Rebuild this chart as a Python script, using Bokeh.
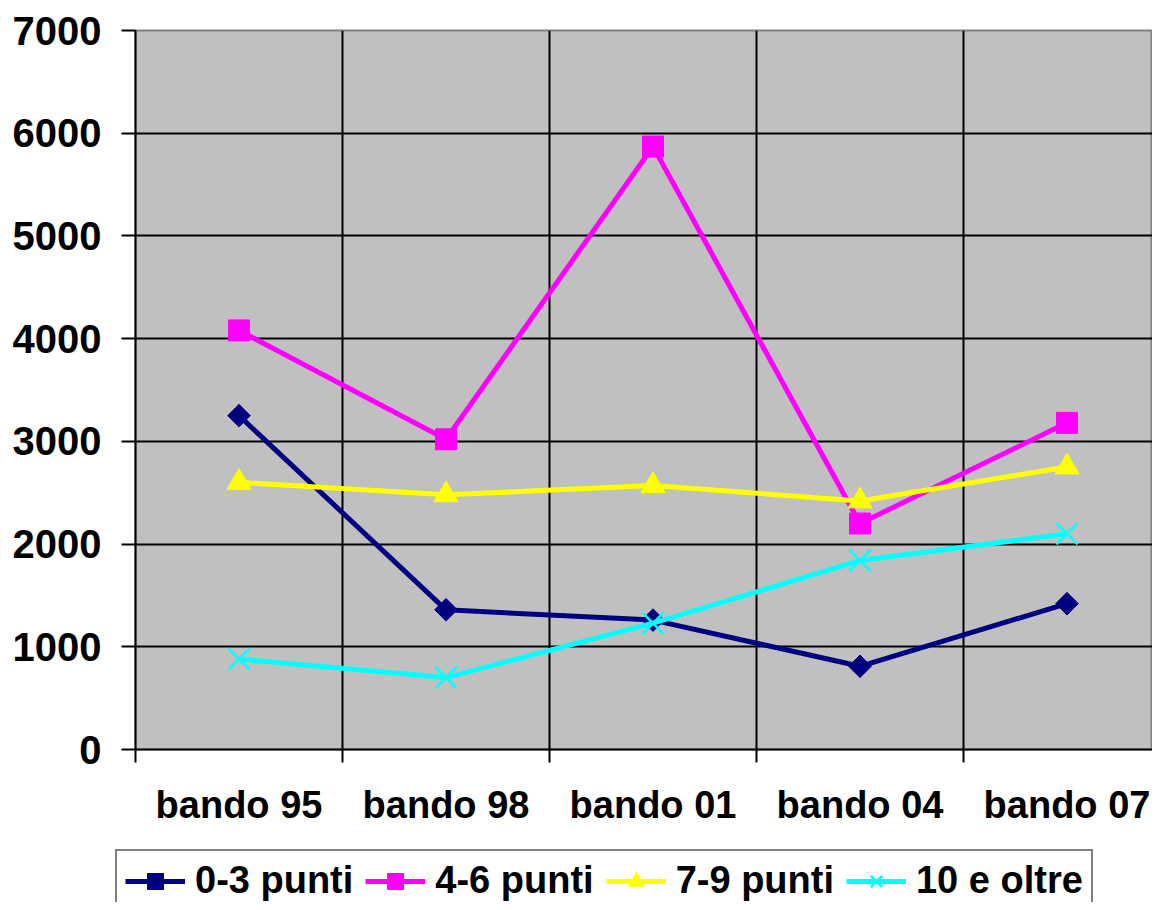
import math
from bokeh.plotting import figure
from bokeh.models import Range1d, FixedTicker, LinearAxis, Legend, LegendItem, Grid
from bokeh.embed import file_html
from bokeh.resources import INLINE

cats = ["bando 95", "bando 98", "bando 01", "bando 04", "bando 07"]
s_03 = [3250, 1360, 1260, 810, 1420]
s_46 = [4080, 3020, 5870, 2200, 3180]
s_79 = [2600, 2480, 2570, 2420, 2750]
s_10 = [880, 700, 1230, 1840, 2100]
y_ticks = [0, 1000, 2000, 3000, 4000, 5000, 6000, 7000]

FONT = "Liberation Sans"
xs = [i + 0.5 for i in range(len(cats))]

p = figure(frame_width=1017, frame_height=719, output_backend="svg", toolbar_location=None,
           x_range=Range1d(0, 4.913), y_range=Range1d(0, 7000),
           x_axis_type=None, y_axis_type=None,
           min_border_left=135, min_border_top=30, min_border_right=0, min_border_bottom=100)
p.background_fill_color = "#C0C0C0"
p.border_fill_color = "white"
p.outline_line_color = "#808080"
p.outline_line_width = 2

# y axis
yax = LinearAxis(ticker=FixedTicker(ticks=y_ticks))
yax.axis_line_color = "black"
yax.axis_line_width = 2
yax.major_tick_line_color = "black"
yax.major_tick_line_width = 2
yax.major_tick_out = 14
yax.major_tick_in = 0
yax.minor_tick_line_color = None
yax.major_label_text_font = FONT
yax.major_label_text_font_style = "bold"
yax.major_label_text_font_size = "40px"
yax.major_label_text_color = "black"
yax.major_label_standoff = 20
p.add_layout(yax, "left")

# x axis with boundary ticks
bounds = list(range(len(cats) + 1))
xax = LinearAxis(ticker=FixedTicker(ticks=bounds))
xax.axis_line_color = "black"
xax.axis_line_width = 2
xax.major_tick_line_color = "black"
xax.major_tick_line_width = 2
xax.major_tick_out = 13
xax.major_tick_in = 0
xax.minor_tick_line_color = None
xax.major_label_overrides = {b: "" for b in bounds}
xax.major_label_text_font_size = "1px"
xax.major_label_standoff = 0
p.add_layout(xax, "below")

# x axis with category labels
lax = LinearAxis(ticker=FixedTicker(ticks=xs))
lax.axis_line_color = None
lax.major_tick_line_color = None
lax.minor_tick_line_color = None
lax.major_label_overrides = {x: c for x, c in zip(xs, cats)}
lax.major_label_text_font = FONT
lax.major_label_text_font_style = "bold"
lax.major_label_text_font_size = "38px"
lax.major_label_text_color = "black"
lax.major_label_standoff = 15
p.add_layout(lax, "below")

# grids
p.xgrid.visible = False
p.ygrid.visible = False
p.add_layout(Grid(dimension=0, ticker=FixedTicker(ticks=bounds), grid_line_color="black", grid_line_width=2))
p.add_layout(Grid(dimension=1, ticker=FixedTicker(ticks=y_ticks), grid_line_color="black", grid_line_width=2))

series = [
    ("0-3 punti", s_03, "#000080", "square", 16, math.pi / 4),
    ("4-6 punti", s_46, "#FF00FF", "square", 21, 0),
    ("7-9 punti", s_79, "#FFFF00", "triangle", 24, 0),
    ("10 e oltre", s_10, "#00FFFF", "x", 30, 0),
]

# legend strip below the chart (its own small figure, same series styles)
p2 = figure(width=1152, height=53, output_backend="svg", toolbar_location=None,
            x_range=Range1d(0, 1), y_range=Range1d(-1, 0),
            x_axis_type=None, y_axis_type=None,
            min_border_left=0, min_border_top=0, min_border_right=0, min_border_bottom=0)
p2.outline_line_color = None
p2.background_fill_color = "white"
p2.border_fill_color = "white"
p2.xgrid.visible = False
p2.ygrid.visible = False

items = []
for name, ys, col, mk, sz, ang in series:
    for fig in (p, p2):
        r1 = fig.line(xs, ys, line_color=col, line_width=5)
        if mk == "x":
            r2 = fig.scatter(xs, ys, marker=mk, size=sz, line_color=col, line_width=2.5)
        else:
            r2 = fig.scatter(xs, ys, marker=mk, size=sz, angle=ang, fill_color=col,
                             line_color=col, line_width=1)
    items.append(LegendItem(label=name, renderers=[r1, r2]))

leg = Legend(items=items, orientation="horizontal", location=(115, -10))
leg.label_text_font = FONT
leg.label_text_font_style = "bold"
leg.label_text_font_size = "38px"
leg.label_text_color = "black"
leg.border_line_color = "black"
leg.border_line_width = 2
leg.background_fill_color = "white"
leg.background_fill_alpha = 1
leg.glyph_width = 60
leg.glyph_height = 40
leg.label_height = 40
leg.label_standoff = 10
leg.spacing = 12
leg.padding = 8
leg.margin = 0
p2.add_layout(leg, "center")

open("out.html", "w").write(file_html([p, p2], INLINE))
